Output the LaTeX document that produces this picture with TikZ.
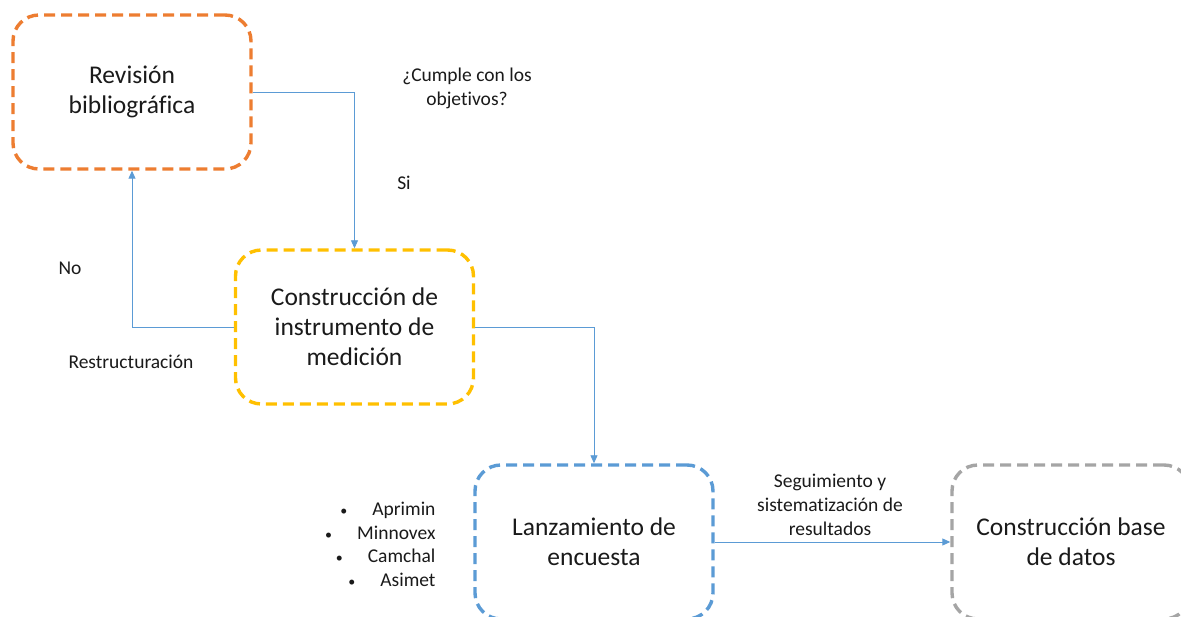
\documentclass[tikz,border=0pt]{standalone}
\usepackage{fontspec}
\setmainfont{Carlito}[Ligatures=NoCommon]
\usetikzlibrary{arrows.meta}
\definecolor{cOrange}{HTML}{ED7D31}
\definecolor{cYellow}{HTML}{FFC000}
\definecolor{cBlue}{HTML}{5B9BD5}
\definecolor{cGray}{HTML}{A5A5A5}
\definecolor{cText}{HTML}{1A1A1A}
\newcommand{\smallbul}{{\fontsize{14}{14}\selectfont\textbullet}}
\tikzset{
  stagebox/.style={draw=#1, line width=3.4pt, dash pattern=on 11pt off 6pt,
    rounded corners=26pt, minimum width=238pt, minimum height=154pt,
    align=center, font=\fontsize{25.5}{30}\selectfont, text=cText},
  flow/.style={draw=cBlue, line width=0.9pt, -{Triangle[length=8pt,width=7pt]}},
  lbl/.style={font=\fontsize{19.5}{24}\selectfont, text=cText, align=center},
}
\begin{document}
\begin{tikzpicture}[x=1pt,y=-1pt]
\useasboundingbox (0,0) rectangle (1181,617);
\fill[white] (0,0) rectangle (1181,617);
\begin{scope}
\clip (0,0) rectangle (1181,617);
\node[stagebox=cOrange] (b1) at (132,92) {Revisión\\bibliográfica};
\node[stagebox=cYellow] (b2) at (354.5,327) {Construcción de\\instrumento de\\medición};
\node[stagebox=cBlue] (b3) at (594,542) {Lanzamiento de\\encuesta};
\node[stagebox=cGray] (b4) at (1071,542) {Construcción base\\de datos};
\end{scope}
\draw[flow] (b1.east) -| (b2.north);
\draw[flow] (b2.west) -| (b1.south);
\draw[flow] (b2.east) -| (b3.north);
\draw[flow] (b3.east) -- (b4.west);
\node[lbl] (q) at (467,88) {¿Cumple con los\\objetivos?};
\node[lbl] (si) at (404,183) {Si};
\node[lbl] (no) at (70,268) {No};
\node[lbl] (re) at (131,362) {Restructuración};
\node[lbl] (seg) at (830,505) {Seguimiento y\\sistematización de\\resultados};
\node[lbl, anchor=east] (l1) at (439,510) {\smallbul\hspace{25pt}Aprimin};
\node[lbl, anchor=east] (l2) at (439,533) {\smallbul\hspace{25pt}Minnovex};
\node[lbl, anchor=east] (l3) at (439,556) {\smallbul\hspace{25pt}Camchal};
\node[lbl, anchor=east] (l4) at (439,580) {\smallbul\hspace{25pt}Asimet};
\end{tikzpicture}
\end{document}
